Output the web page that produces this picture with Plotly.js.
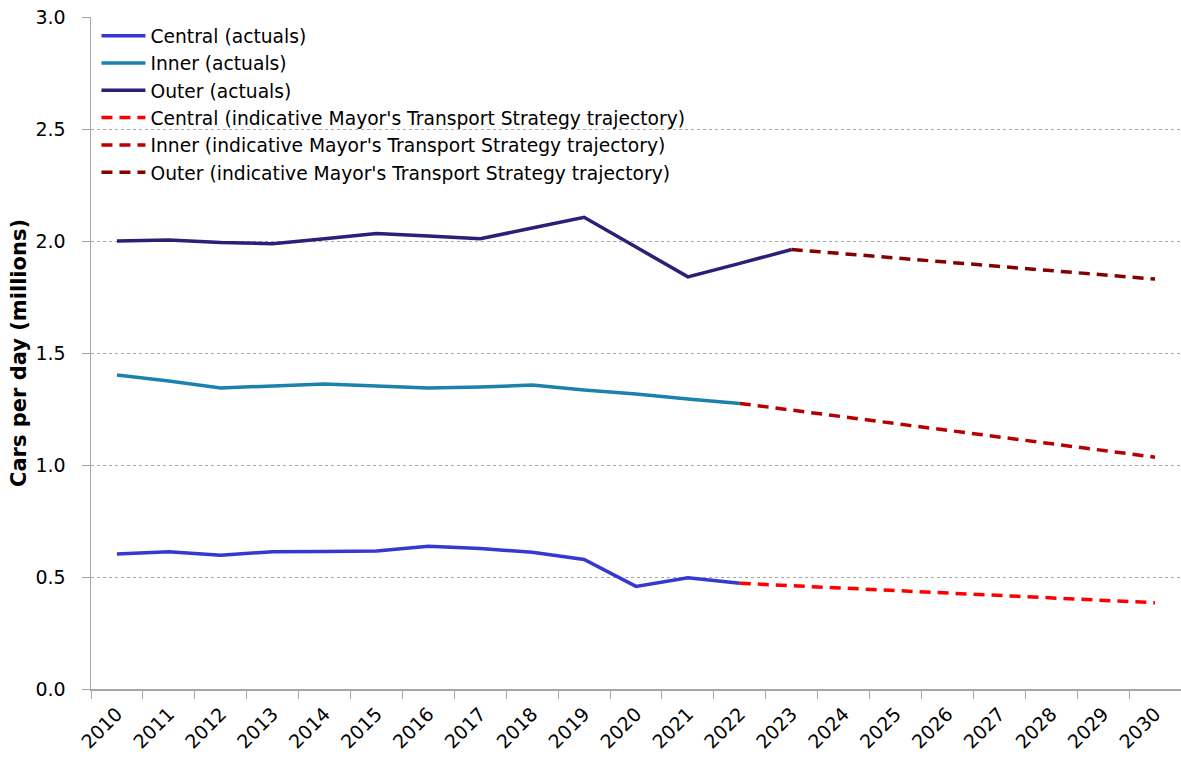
<!DOCTYPE html>
<html>
<head>
<meta charset="utf-8">
<script src="https://cdn.plot.ly/plotly-3.0.1.min.js"></script>
<style>html,body{margin:0;padding:0;background:#fff;}#chart{width:1181px;height:758px;}</style>
</head>
<body>
<div id="chart"></div>
<script>
const years = ['2010','2011','2012','2013','2014','2015','2016','2017','2018','2019','2020','2021','2022','2023','2024','2025','2026','2027','2028','2029','2030'];
const actualYears = ['2010','2011','2012','2013','2014','2015','2016','2017','2018','2019','2020','2021','2022'];
const outerActualYears = ['2010','2011','2012','2013','2014','2015','2016','2017','2018','2019','2020','2021','2022','2023'];
const centralActual = [0.603,0.613,0.597,0.613,0.614,0.616,0.637,0.627,0.610,0.578,0.458,0.497,0.472];
const innerActual   = [1.402,1.375,1.344,1.353,1.362,1.353,1.344,1.348,1.357,1.335,1.317,1.295,1.275];
const outerActual   = [2.000,2.004,1.993,1.988,2.010,2.033,2.022,2.010,2.058,2.106,1.973,1.840,1.900,1.962];
const centralTrajYears = ['2022','2030'];
const centralTraj = [0.472,0.385];
const innerTrajYears = ['2022','2030'];
const innerTraj = [1.275,1.035];
const outerTrajYears = ['2023','2030'];
const outerTraj = [1.962,1.830];
const names = ['Central (actuals)','Inner (actuals)','Outer (actuals)',
  "Central (indicative Mayor's Transport Strategy trajectory)",
  "Inner (indicative Mayor's Transport Strategy trajectory)",
  "Outer (indicative Mayor's Transport Strategy trajectory)"];
const colors = ['#3737D2','#1B82AF','#2B1F78','#FF0000','#B80000','#850000'];

const FONT = '"DejaVu Sans", "Open Sans", sans-serif';
function tr(x,y,i,dash){
  return {x:x,y:y,type:'scatter',mode:'lines',name:names[i],
    line:{color:colors[i],width:3.5,dash:dash?'11px,7px':'solid'},hoverinfo:'x+y'};
}
const data = [
  tr(actualYears,centralActual,0,false),
  tr(actualYears,innerActual,1,false),
  tr(outerActualYears,outerActual,2,false),
  tr(centralTrajYears,centralTraj,3,true),
  tr(innerTrajYears,innerTraj,4,true),
  tr(outerTrajYears,outerTraj,5,true)
];
const layout = {
  width:1181,height:758,
  margin:{l:91,r:0,t:17,b:69},
  paper_bgcolor:'#fff',plot_bgcolor:'#fff',
  font:{family:FONT,color:'#000'},
  showlegend:true,
  legend:{x:0.005,y:1.0,xanchor:'left',yanchor:'top',bgcolor:'rgba(0,0,0,0)',
    font:{family:FONT,size:18.7,color:'#000'},traceorder:'normal',itemwidth:44},
  xaxis:{type:'category',categoryorder:'array',categoryarray:years,range:[-0.5,20.5],
    tickmode:'array',tickvals:years,ticktext:years,tickson:'boundaries',
    ticks:'outside',ticklen:8,tickcolor:'#A6A6A6',tickangle:-45,ticklabelstandoff:5,
    tickfont:{family:FONT,size:19,color:'#000'},
    showline:true,linecolor:'#A6A6A6',linewidth:1.5,showgrid:false,zeroline:false,fixedrange:true},
  yaxis:{range:[0,3],tickvals:[0,0.5,1,1.5,2,2.5,3],ticktext:['0.0','0.5','1.0','1.5','2.0','2.5','3.0'],
    ticks:'outside',ticklen:8,tickcolor:'#A6A6A6',ticklabelstandoff:12,
    tickfont:{family:FONT,size:19,color:'#000'},
    showline:true,linecolor:'#A6A6A6',linewidth:1.5,
    showgrid:true,gridcolor:'#A6A6A6',griddash:'dot',gridwidth:1,zeroline:false,
    title:{text:'<b>Cars per day (millions)</b>',font:{family:FONT,size:21,color:'#000'},standoff:3},fixedrange:true}
};
Plotly.newPlot('chart',data,layout,{displayModeBar:false,staticPlot:true});
</script>
</body>
</html>
